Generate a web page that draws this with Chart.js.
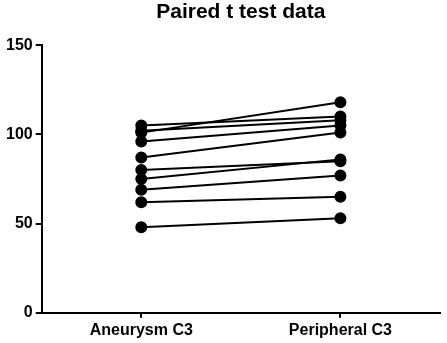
<!DOCTYPE html>
<html>
<head>
<meta charset="utf-8">
<script src="https://cdn.jsdelivr.net/npm/chart.js@4.4.0/dist/chart.umd.min.js"></script>
<style>
	html, body { margin: 0; padding: 0; background: #fff; }
	#wrap { width: 447px; height: 343px; }
</style>
</head>
<body>
<div id="wrap"><canvas id="chart-paired"></canvas></div>
<script>
// Chart data
const GROUPS = ["Aneurysm C3", "Peripheral C3"];
const ANEURYSM = [105, 102, 101, 96, 87, 80, 75, 69, 62, 48];
const PERIPHERAL = [110, 108, 118, 105, 101, 85, 86, 77, 65, 53];
const Y_TICKS = [0, 50, 100, 150];

const FONT = "'Liberation Sans', Arial, sans-serif";

const CHART_DATA = {
	labels: GROUPS,
	datasets: ANEURYSM.map((value, i) => ({
		label: "Subject " + (i + 1),
		data: [value, PERIPHERAL[i]],
		borderColor: "#000",
		backgroundColor: "#000",
		borderWidth: 2,
		pointRadius: 5,
		pointBackgroundColor: "#000",
		pointBorderColor: "#000",
		tension: 0,
	})),
};

const CHART_CONFIG = {
	type: "line",
	data: CHART_DATA,
	options: {
		responsive: true,
		maintainAspectRatio: false,
		animation: false,
		layout: {
			padding: { left: 3, right: 2, top: 0, bottom: 0 },
		},
		scales: {
			x: {
				offset: true,
				border: { color: "#000", width: 2 },
				grid: {
					drawOnChartArea: false,
					drawTicks: true,
					tickLength: 5,
					color: "#000",
					lineWidth: 2,
				},
				ticks: {
					color: "#000",
					padding: 3,
					font: { family: FONT, size: 16, weight: "bold" },
				},
			},
			y: {
				min: 0,
				max: 150,
				border: { color: "#000", width: 2 },
				grid: {
					drawOnChartArea: false,
					drawTicks: true,
					tickLength: 6,
					color: "#000",
					lineWidth: 2,
				},
				afterBuildTicks: (axis) => {
					axis.ticks = Y_TICKS.map((v) => ({ value: v }));
				},
				ticks: {
					color: "#000",
					padding: 3,
					font: { family: FONT, size: 16, weight: "bold" },
				},
			},
		},
		plugins: {
			legend: { display: false },
			tooltip: { enabled: false },
			title: {
				display: true,
				text: "Paired t test data",
				fullSize: false,
				color: "#000",
				font: { family: FONT, size: 21, weight: "bold" },
				padding: { top: 0, bottom: 20 },
			},
		},
	},
};

new Chart(document.getElementById("chart-paired"), CHART_CONFIG);
</script>
</body>
</html>
